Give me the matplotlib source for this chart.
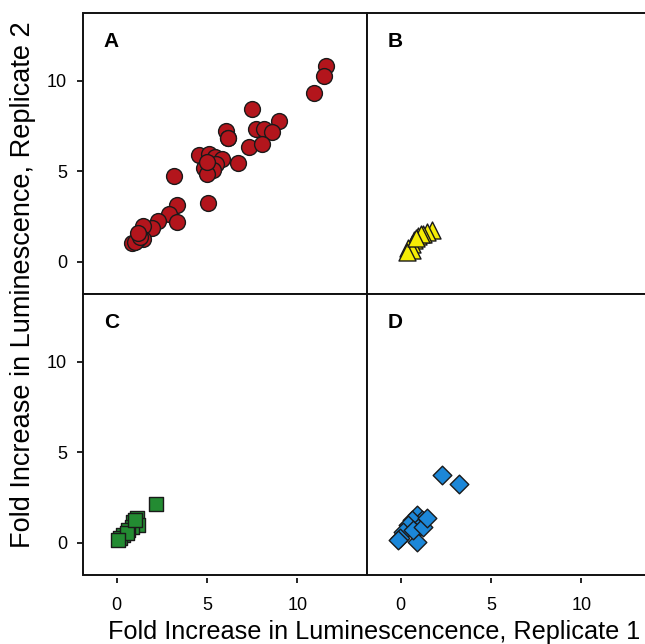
import matplotlib
matplotlib.use("Agg")
import matplotlib.pyplot as plt
from matplotlib.patches import Rectangle

plt.rcParams['font.family'] = ['Liberation Sans', 'DejaVu Sans']

# Panel A (circles)
a_x = [11.57, 11.46, 10.93, 7.51, 9.0, 7.71, 8.16, 8.62, 6.05, 6.14, 7.34, 8.05,
       6.72, 4.54, 5.11, 5.42, 5.81, 4.82, 5.48, 5.32, 4.98, 3.17, 5.06, 3.34,
       2.88, 3.34, 2.29, 1.94, 1.47, 1.47, 1.10, 0.83, 1.01, 1.29, 1.20, 6.14, 5.0]
a_y = [10.85, 10.28, 9.36, 8.47, 7.81, 7.33, 7.33, 7.17, 7.24, 6.83, 6.34, 6.49,
       5.47, 5.88, 5.95, 5.78, 5.71, 5.21, 5.40, 5.10, 4.83, 4.75, 3.26, 3.15,
       2.67, 2.19, 2.27, 1.85, 1.97, 1.24, 1.20, 1.02, 1.10, 1.38, 1.60, 6.87, 5.5]

# Panel B (triangles)
b_x = [1.71, 1.43, 1.25, 0.97, 0.73, 0.60, 0.42, 0.60, 0.33, 1.10, 0.85]
b_y = [1.75, 1.66, 1.53, 1.42, 1.20, 0.98, 0.76, 0.65, 0.54, 1.55, 1.30]

# Panel C (squares)
c_x = [2.16, 1.11, 0.92, 1.20, 0.83, 0.64, 0.37, 0.18, 0.55, 0.09, 1.0]
c_y = [2.14, 1.35, 1.16, 0.98, 0.88, 0.70, 0.43, 0.24, 0.52, 0.15, 1.25]

# Panel D (diamonds)
d_x = [2.26, 3.22, 0.88, 1.16, 0.60, 0.97, 0.42, 0.14, -0.04, -0.13, 0.88, 0.69, 1.25, 1.43]
d_y = [3.74, 3.28, 1.53, 1.25, 1.25, 0.80, 0.98, 0.61, 0.24, 0.15, 0.06, 0.70, 0.88, 1.35]

x_ticks = [0, 5, 10]
y_ticks = [0, 5, 10]
panel_labels = ['A', 'B', 'C', 'D']
x_label = 'Fold Increase in Luminescencence, Replicate 1'
y_label = 'Fold Increase in Luminescence, Replicate 2'

W, H = 645, 644
fig = plt.figure(figsize=(W / 100, H / 100), dpi=100)

left_px, mid_px, right_px = 83, 367, 651
top_px, midy_px, bot_px = 13, 294, 575
pw = (mid_px - left_px) / W
ph = (midy_px - top_px) / H

positions = [
    (left_px / W, 1 - midy_px / H),
    (mid_px / W, 1 - midy_px / H),
    (left_px / W, 1 - bot_px / H),
    (mid_px / W, 1 - bot_px / H),
]

styles = [
    dict(x=a_x, y=a_y, marker='o', color='#B3151C', s=130),
    dict(x=b_x, y=b_y, marker='^', color='#F5EC05', s=150),
    dict(x=c_x, y=c_y, marker='s', color='#238B32', s=100),
    dict(x=d_x, y=d_y, marker='D', color='#1C87D8', s=90),
]

xlim = (-1.87, 13.86)
ylim = (-1.78, 13.76)

for i, (pos, st, lab) in enumerate(zip(positions, styles, panel_labels)):
    ax = fig.add_axes([pos[0], pos[1], pw, ph])
    ax.scatter(st['x'], st['y'], marker=st['marker'], s=st['s'], c=st['color'],
               edgecolors='#1a1a1a', linewidths=1.0, zorder=3)
    ax.set_xlim(*xlim)
    ax.set_ylim(*ylim)
    for sp in ax.spines.values():
        sp.set_visible(False)
    ax.spines['bottom'].set_position(('outward', 2))
    ax.add_patch(Rectangle((0, 0), 1, 1, transform=ax.transAxes, fill=False,
                           lw=1.4, edgecolor='#111111', clip_on=False, zorder=5))
    ax.text(0.1, 0.9, lab, transform=ax.transAxes, fontsize=15, fontweight='bold',
            ha='center', va='center')
    if i in (0, 2):
        ax.set_yticks(y_ticks)
        ax.tick_params(axis='y', direction='out', length=4.5, width=1.2, pad=7,
                       labelsize=13)
    else:
        ax.set_yticks([])
    if i in (2, 3):
        ax.set_xticks(x_ticks)
        ax.tick_params(axis='x', direction='out', length=3.5, width=1.2, pad=10,
                       labelsize=13)
    else:
        ax.set_xticks([])

fig.text(374 / W, 1 - 632 / H, x_label, ha='center', va='center', fontsize=18.2)
fig.text(23 / W, 1 - 285 / H, y_label, ha='center', va='center', fontsize=19.5,
         rotation=90)

fig.savefig('out.png', dpi=100)
